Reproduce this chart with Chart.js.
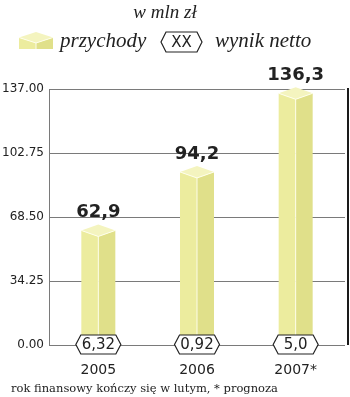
<!DOCTYPE html>
<html><head><meta charset="utf-8">
<script src="https://cdn.jsdelivr.net/npm/chart.js@4/dist/chart.umd.min.js"></script>
<style>html,body{margin:0;padding:0;background:#fff}#wrap{width:350px;height:397px;position:relative}</style>
</head><body><div id="wrap"><canvas id="c"></canvas></div>
<script>
const categories = ['2005', '2006', '2007*'];
const revenue = [62.9, 94.2, 136.3];
const netLabels = ['6,32', '0,92', '5,0'];
const yTicks = [0, 34.25, 68.5, 102.75, 137];
const titleText = 'w mln zł';
const legendRevenue = 'przychody';
const legendNet = 'wynik netto';
const footnote = 'rok finansowy kończy się w lutym, * prognoza';

const C_LEFT = '#ecec9e', C_RIGHT = '#e0e08a', C_TOP = '#f4f4bf';

function hexagon(ctx, cx, cy, w, h, text, font) {
  const hw = w / 2, hh = h / 2, ind = 5;
  ctx.beginPath();
  ctx.moveTo(cx - hw, cy);
  ctx.lineTo(cx - hw + ind, cy - hh);
  ctx.lineTo(cx + hw - ind, cy - hh);
  ctx.lineTo(cx + hw, cy);
  ctx.lineTo(cx + hw - ind, cy + hh);
  ctx.lineTo(cx - hw + ind, cy + hh);
  ctx.closePath();
  ctx.fillStyle = '#fff'; ctx.fill();
  ctx.strokeStyle = '#222'; ctx.lineWidth = 1.2; ctx.stroke();
  ctx.fillStyle = '#222'; ctx.font = font;
  ctx.textAlign = 'center'; ctx.textBaseline = 'middle';
  ctx.fillText(text, cx, cy + 1);
  ctx.textBaseline = 'alphabetic';
}

function box(ctx, x0, x1, yTop, base, capH) {
  const xc = (x0 + x1) / 2;
  ctx.fillStyle = C_LEFT;
  ctx.beginPath();
  ctx.moveTo(x0, yTop + capH); ctx.lineTo(xc, yTop + 2 * capH);
  ctx.lineTo(xc, base); ctx.lineTo(x0, base); ctx.closePath(); ctx.fill();
  ctx.fillStyle = C_RIGHT;
  ctx.beginPath();
  ctx.moveTo(xc, yTop + 2 * capH); ctx.lineTo(x1, yTop + capH);
  ctx.lineTo(x1, base); ctx.lineTo(xc, base); ctx.closePath(); ctx.fill();
  ctx.fillStyle = C_TOP;
  ctx.beginPath();
  ctx.moveTo(x0, yTop + capH); ctx.lineTo(xc, yTop);
  ctx.lineTo(x1, yTop + capH); ctx.lineTo(xc, yTop + 2 * capH); ctx.closePath(); ctx.fill();
  ctx.strokeStyle = 'rgba(255,255,240,0.9)'; ctx.lineWidth = 1;
  ctx.beginPath();
  ctx.moveTo(x0, yTop + capH); ctx.lineTo(xc, yTop + 2 * capH); ctx.lineTo(x1, yTop + capH);
  ctx.moveTo(xc, yTop + 2 * capH); ctx.lineTo(xc, base);
  ctx.stroke();
}

const deco = {
  id: 'deco',
  afterDraw(chart) {
    const ctx = chart.ctx, ca = chart.chartArea;
    ctx.save();
    ctx.strokeStyle = '#1a1a1a'; ctx.lineWidth = 2;
    ctx.beginPath(); ctx.moveTo(ca.right + 3, ca.top - 1); ctx.lineTo(ca.right + 3, ca.bottom); ctx.stroke();
    const meta = chart.getDatasetMeta(0);
    meta.data.forEach((bar, i) => {
      const w = bar.width;
      box(ctx, bar.x - w / 2, bar.x + w / 2, bar.y - 3, bar.base, 6);
      ctx.fillStyle = '#222';
      ctx.font = 'bold 18px "DejaVu Sans"';
      ctx.textAlign = 'center'; ctx.textBaseline = 'alphabetic';
      ctx.fillText(revenue[i].toFixed(1).replace('.', ','), bar.x, bar.y - 10);
      hexagon(ctx, bar.x, bar.base, 45, 19, netLabels[i], '15px "DejaVu Sans"');
    });
    ctx.fillStyle = '#222';
    ctx.textAlign = 'center'; ctx.textBaseline = 'alphabetic';
    ctx.font = 'italic 19px "Liberation Serif"';
    ctx.fillText(titleText, 165, 18);
    // legend
    box(ctx, 19, 53, 32, 49, 5.5);
    ctx.textAlign = 'left'; ctx.textBaseline = 'alphabetic';
    ctx.font = 'italic 21px "Liberation Serif"';
    ctx.fillStyle = '#222';
    ctx.fillText(legendRevenue, 60, 47);
    hexagon(ctx, 181.5, 42, 41, 20, 'XX', '15px "DejaVu Sans"');
    ctx.textAlign = 'left'; ctx.textBaseline = 'alphabetic';
    ctx.font = 'italic 21px "Liberation Serif"';
    ctx.fillStyle = '#222';
    ctx.fillText(legendNet, 215, 47);
    ctx.font = '11.5px "DejaVu Serif"';
    ctx.fillText(footnote, 11, 392);
    ctx.restore();
  }
};

new Chart(document.getElementById('c'), {
  type: 'bar',
  data: {
    labels: categories,
    datasets: [{ data: revenue, backgroundColor: 'rgba(0,0,0,0)', barThickness: 34 }]
  },
  options: {
    responsive: true, maintainAspectRatio: false, animation: false,
    layout: { padding: { top: 89, right: 5, left: 0, bottom: 0 } },
    plugins: { legend: { display: false }, tooltip: { enabled: false } },
    scales: {
      x: {
        grid: { display: false, drawTicks: false },
        border: { display: false },
        ticks: { padding: 17, color: '#222', font: { family: 'DejaVu Sans', size: 14 } },
        afterFit(s) { s.height = 52; }
      },
      y: {
        min: 0, max: 137,
        afterBuildTicks(s) { s.ticks = yTicks.map(v => ({ value: v })); },
        grid: { color: '#7a7a7a', lineWidth: 1, drawTicks: false },
        border: { color: '#7a7a7a' },
        ticks: { padding: 5, color: '#222', font: { family: 'DejaVu Sans', size: 12 },
          callback: v => Number(v).toFixed(2) },
        afterFit(s) { s.width = 49; }
      }
    }
  },
  plugins: [deco]
});
</script></body></html>
